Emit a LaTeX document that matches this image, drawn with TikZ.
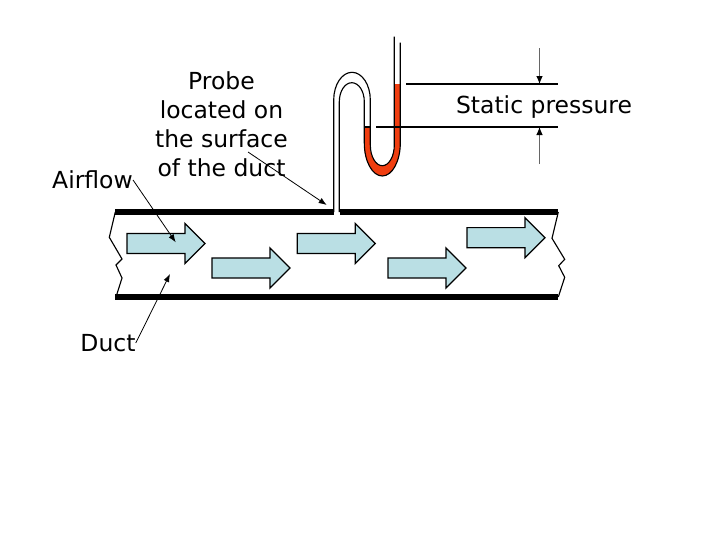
\documentclass[tikz,border=0pt]{standalone}
\usepackage{fontspec}
\setmainfont{DejaVu Sans}
\usetikzlibrary{arrows.meta,positioning,calc,shapes.arrows}
\definecolor{flowblue}{RGB}{186,223,228}
\definecolor{fluidred}{RGB}{240,62,16}
\tikzset{
  label/.style={font=\fontsize{17.6}{21.75}\selectfont,align=center,inner sep=0pt},
  flow/.style={single arrow,draw=black,fill=flowblue,line width=0.9pt,inner sep=7.1pt,
    minimum height=58.5pt,single arrow head extend=7.5pt,single arrow tip angle=90},
  wall/.style={line width=4.5pt},
  tube/.style={line width=0.85pt},
  leader/.style={line width=0.6pt,-{Latex[length=6pt,width=4.5pt]}},
  level/.style={line width=0.85pt},
  span/.style={line width=0.8pt,gray!80!black,-{Latex[black,length=6pt,width=5pt]}},
}
\begin{document}
\begin{tikzpicture}[x=0.75pt,y=-0.75pt,>=latex]
    \useasboundingbox (0,0) rectangle (728,546);
    % air flow arrows
    \foreach \name/\x/\y in {a/161/243.5,b/246/268,c/331.2/243.5,d/422/268,e/501/237.7}{
      \node[flow] (flow\name) at (\x,\y) {};
    }
    % red fluid
    \fill[fluidred] (364,127) -- (364,143) arc[start angle=180,end angle=0,x radius=18.15,y radius=33]
      -- (400.3,84) -- (394.3,84) -- (394.3,145)
      arc[start angle=0,end angle=180,x radius=12.15,y radius=20.7] -- (370,127) -- cycle;
    % duct walls
    \draw[wall] (115,212) -- (334,212);
    \draw[wall] (340,212) -- (558,212);
    \draw[wall] (115,297) -- (558,297);
    % broken ends
    \draw[tube] (115.3,212) -- (109.3,237.3) -- (122,259) -- (116,265) -- (122,278) -- (116,297);
    \draw[tube] (558.3,212) -- (552,238.3) -- (564.7,259.3) -- (558.7,265.7) -- (564.7,277.3) -- (558.3,297);
    % probe tube and manometer
    \draw[tube] (333.7,212) -- (333.7,100) arc[start angle=180,end angle=360,x radius=18.3,y radius=27.7]
      -- (370.3,145) arc[start angle=180,end angle=0,x radius=12,y radius=20.7] -- (394.3,36.7);
    \draw[tube] (339.3,212) -- (339.3,101.7) arc[start angle=180,end angle=360,x radius=12.5,y radius=19]
      -- (364.3,143) arc[start angle=180,end angle=0,x radius=18,y radius=33] -- (400.3,42.7);
    \draw[tube] (364.3,127) -- (370.3,127);
    % static pressure levels
    \coordinate (highL) at (406,84);
    \coordinate (highR) at (558,84);
    \coordinate (lowL) at (376,127);
    \coordinate (lowR) at (558,127);
    \draw[level] (highL) -- (highR);
    \draw[level] (lowL) -- (lowR);
    \coordinate (spanA) at (539.5,48);
    \coordinate (spanB) at (539.5,84);
    \coordinate (spanC) at (539.5,164);
    \coordinate (spanD) at (539.5,127);
    \draw[span] (spanA) -- (spanB);
    \draw[span] (spanC) -- (spanD);
    % labels
    \node[label] (probe) at (221.5,124) {Probe\\located on\\the surface\\of the duct};
    \node[label] (airflow) at (92.5,180) {Airflow};
    \node[label] (duct) at (108,343) {Duct};
    \node[label] (static) at (544,107.5) {Static pressure};
    % leaders
    \coordinate (probeEnd) at (326.7,205);
    \coordinate (airEnd) at (175.7,242.3);
    \coordinate (ductEnd) at (170,274);
    \draw[leader] (248,152) coordinate (probeStart) -- (probeEnd);
    \draw[leader] (airflow.east) -- (airEnd);
    \draw[leader] (duct.east) -- (ductEnd);
  \end{tikzpicture}
\end{document}
